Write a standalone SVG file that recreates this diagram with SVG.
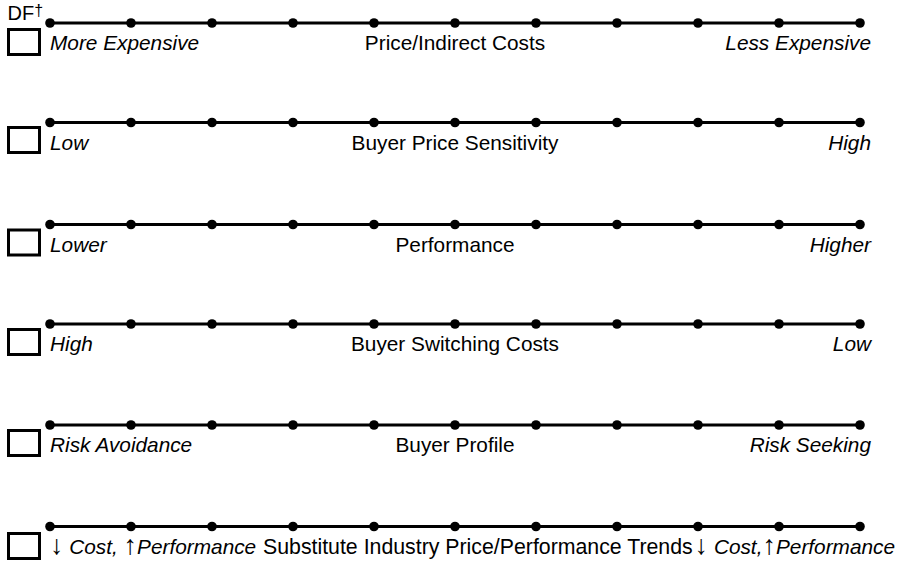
<svg xmlns="http://www.w3.org/2000/svg" width="907" height="564" viewBox="0 0 907 564">
<style>
.bg{fill:#fff}
.ln{stroke:#000;stroke-width:3;fill:none}
.dot{fill:#000}
.box{fill:#fff;stroke:#000;stroke-width:3}
text{font-family:"Liberation Sans",Arial,Helvetica,sans-serif;font-size:20.8px;fill:#000}
.it{font-style:italic}
.mid{text-anchor:middle}
.end{text-anchor:end}
.ar{font-size:27px;font-style:normal}
</style>
<defs>
<g id="dots">
<line class="ln" x1="50" y1="0" x2="860" y2="0"/>
<circle class="dot" cx="50" cy="0" r="4.8"/>
<circle class="dot" cx="131" cy="0" r="4.8"/>
<circle class="dot" cx="212" cy="0" r="4.8"/>
<circle class="dot" cx="293" cy="0" r="4.8"/>
<circle class="dot" cx="374" cy="0" r="4.8"/>
<circle class="dot" cx="455" cy="0" r="4.8"/>
<circle class="dot" cx="536" cy="0" r="4.8"/>
<circle class="dot" cx="617" cy="0" r="4.8"/>
<circle class="dot" cx="698" cy="0" r="4.8"/>
<circle class="dot" cx="779" cy="0" r="4.8"/>
<circle class="dot" cx="860" cy="0" r="4.8"/>
</g>
</defs>
<rect class="bg" x="0" y="0" width="907" height="564"/>
<text x="7.5" y="20" style="font-size:20px">DF<tspan style="font-size:16px" dy="-4">†</tspan></text>
<g id="connectors">
<use href="#dots" y="23"/>
<use href="#dots" y="122.5"/>
<use href="#dots" y="224.5"/>
<use href="#dots" y="324"/>
<use href="#dots" y="425"/>
<use href="#dots" y="526.5"/>
</g>
<g id="row1">
<rect class="box" x="8.5" y="29.5" width="31" height="25"/>
<text class="it" x="50" y="50">More Expensive</text>
<text class="mid" x="455" y="50">Price/Indirect Costs</text>
<text class="it end" x="871" y="50">Less Expensive</text>
</g>
<g id="row2">
<rect class="box" x="8.5" y="127.5" width="31" height="25"/>
<text class="it" x="50" y="149.5">Low</text>
<text class="mid" x="455" y="149.5">Buyer Price Sensitivity</text>
<text class="it end" x="871" y="149.5">High</text>
</g>
<g id="row3">
<rect class="box" x="8.5" y="230" width="31" height="25"/>
<text class="it" x="50" y="251.5">Lower</text>
<text class="mid" x="455" y="251.5">Performance</text>
<text class="it end" x="871" y="251.5">Higher</text>
</g>
<g id="row4">
<rect class="box" x="8.5" y="329.5" width="31" height="25"/>
<text class="it" x="50" y="351">High</text>
<text class="mid" x="455" y="351">Buyer Switching Costs</text>
<text class="it end" x="871" y="351">Low</text>
</g>
<g id="row5">
<rect class="box" x="8.5" y="430.5" width="31" height="25"/>
<text class="it" x="50" y="452">Risk Avoidance</text>
<text class="mid" x="455" y="452">Buyer Profile</text>
<text class="it end" x="871" y="452">Risk Seeking</text>
</g>
<g id="row6">
<rect class="box" x="8.5" y="533.5" width="31" height="25"/>
<text x="50" y="553.5"><tspan class="ar">↓</tspan> <tspan class="it">Cost, </tspan><tspan class="ar">↑</tspan><tspan class="it">Performance</tspan></text>
<text x="263" y="553.5" style="font-size:21.3px">Substitute Industry Price/Performance Trends</text>
<text class="end" x="895" y="553.5"><tspan class="ar">↓</tspan> <tspan class="it">Cost,</tspan><tspan class="ar">↑</tspan><tspan class="it">Performance</tspan></text>
</g>
</svg>
